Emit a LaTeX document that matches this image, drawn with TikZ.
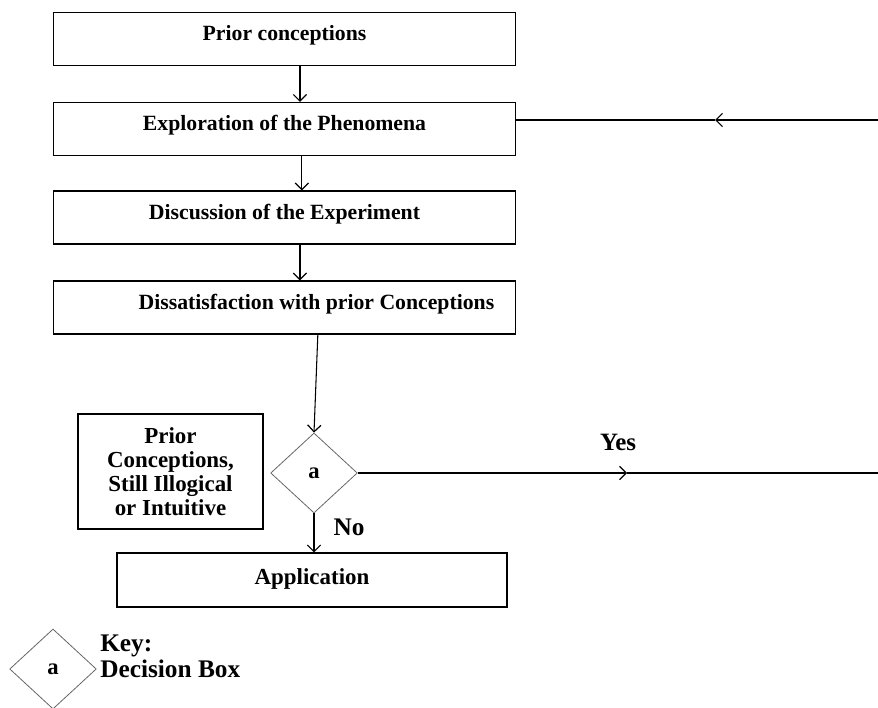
\documentclass[tikz,border=0pt]{standalone}
\usepackage{fontspec}
\setmainfont{Liberation Serif}
\usetikzlibrary{shapes.geometric,arrows.meta}

\tikzset{
  stagebox/.style={draw, line width=0.8pt, minimum width=347pt, minimum height=39.75pt,
    inner sep=0pt, text height=12pt, text depth=9.5pt, font=\bfseries\fontsize{16.3}{19}\selectfont},
  notebox/.style={draw, line width=0.8pt, minimum width=138.75pt, minimum height=86.25pt,
    inner sep=0pt, align=center, font=\bfseries\fontsize{17.2}{18}\selectfont},
  decision/.style={draw=gray!80!black, shape=diamond, line width=0.6pt, minimum width=65pt,
    minimum height=60pt, inner sep=0pt, font=\bfseries\fontsize{17}{20}\selectfont},
  flow/.style={line width=0.8pt, -{Straight Barb[length=5pt,width=10pt,line width=0.9pt]}},
  plain/.style={line width=0.8pt}
}

\begin{document}
\begin{tikzpicture}[x=0.75pt, y=-0.75pt]
\useasboundingbox (0,0) rectangle (878,707);

% stages
\node[stagebox] (prior)   at (284.5,39)    {Prior conceptions};
\node[stagebox] (explore) at (284.5,129)   {Exploration of the Phenomena};
\node[stagebox] (discuss) at (284.5,217.5) {Discussion of the Experiment};
\node[stagebox] (dissat)  at (284.5,307.5) {\hspace*{48pt}Dissatisfaction with prior Conceptions};

% decision
\node[notebox] (still) at (170.5,471.5) {Prior\\Conceptions,\\Still Illogical\\or Intuitive};
\node[decision] (dec) at (314,473) {a};
\node[font=\bfseries\fontsize{18.7}{20}\selectfont] (yes) at (618,442) {Yes};
\node[font=\bfseries\fontsize{19}{20}\selectfont] (no)  at (349,527) {No};
\node[stagebox, minimum width=292.5pt, minimum height=40.5pt, text height=13pt, text depth=7pt,
  font=\bfseries\fontsize{17.2}{20}\selectfont] (app) at (312,580) {Application};

% key
\node[decision] (keydec) at (53,669) {a};
\node[anchor=west, align=left, inner sep=0pt, font=\bfseries\fontsize{19}{19.5}\selectfont] (keytext) at (100,656) {Key:\\Decision Box};

% arrows down
\draw[flow] ([xshift=11.6pt]prior.south) -- ([xshift=11.6pt]prior.south |- explore.north);
\draw[flow] ([xshift=13pt]explore.south) -- ([xshift=13pt]explore.south |- discuss.north);
\draw[flow] ([xshift=11.6pt]discuss.south) -- ([xshift=11.6pt]discuss.south |- dissat.north);
\draw[flow] ([xshift=25pt]dissat.south) -- (dec.north);
\draw[flow] (dec.south) -- (dec.south |- app.north);

% loop back on the right
\coordinate (edge1) at (878,120);
\coordinate (mid1) at (715,120);
\draw[flow] (edge1) -- (mid1);
\draw[plain] (mid1) -- (mid1 -| explore.east);

\coordinate (mid2) at (627,473);
\coordinate (edge2) at (878,473);
\draw[flow] (dec.east) -- (mid2);
\draw[plain] (mid2) -- (edge2);

\end{tikzpicture}
\end{document}
